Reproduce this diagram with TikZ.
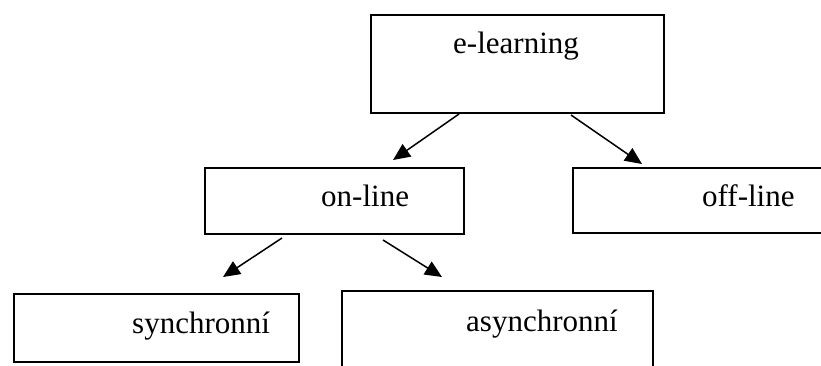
\documentclass[tikz,border=0pt]{standalone}
\usepackage{fontspec}
\setmainfont{Liberation Serif}
\usetikzlibrary{arrows.meta,calc}
\begin{document}
\begin{tikzpicture}[x=1pt,y=-1pt,
  box/.style={draw,line width=2pt,rectangle,inner sep=0pt,anchor=north west},
  lbl/.style={inner sep=0pt,anchor=base west,font=\fontsize{31}{36}\selectfont},
  arr/.style={line width=1.5pt,-{Triangle[length=17pt,width=15pt]}}]
\useasboundingbox (0,0) rectangle (821,365);
\clip (0,0) rectangle (821,365);
\fill[white] (0,0) rectangle (821,365);
% boxes
\node[box,minimum width=293pt,minimum height=98pt] (el) at (370,14) {};
\node[box,minimum width=259pt,minimum height=66pt] (on) at (204,167) {};
\node[box,minimum width=280pt,minimum height=65pt] (off) at (572,167) {};
\node[box,minimum width=285pt,minimum height=68pt] (syn) at (13,293) {};
\node[box,minimum width=311pt,minimum height=100pt] (asy) at (341,290) {};
% labels
\node[lbl] (elt) at (453,53) {e-learning};
\node[lbl] (ont) at (321,206) {on-line};
\node[lbl] (offt) at (702,206) {off-line};
\node[lbl] (synt) at (132,333) {synchronní};
\node[lbl] (asyt) at (466,331) {asynchronní};
% arrow tips
\coordinate (t1) at (393,160);
\coordinate (t2) at (642,164);
\coordinate (t3) at (223,277);
\coordinate (t4) at (442,277);
% connectors
\draw[arr] ($(el.south west)+(89,0)$) -- (t1);
\draw[arr] ($(el.south west)+(201,1)$) -- (t2);
\draw[arr] ($(on.south west)+(78,3)$) -- (t3);
\draw[arr] ($(on.south west)+(179,5)$) -- (t4);
\end{tikzpicture}
\end{document}
